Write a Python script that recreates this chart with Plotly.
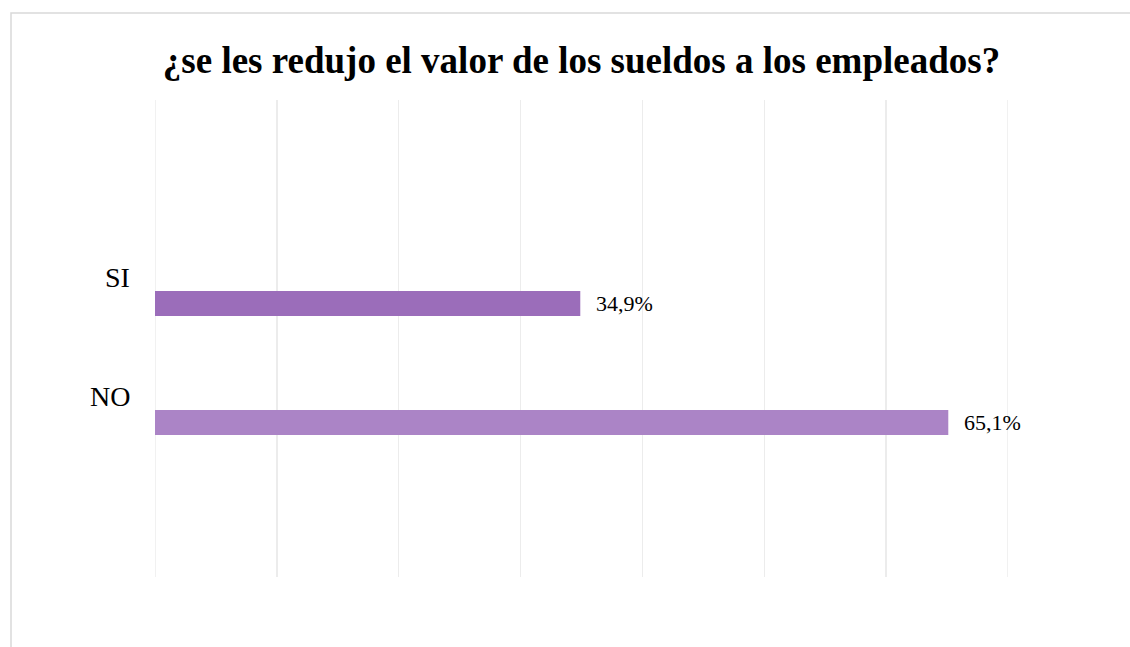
import plotly.graph_objects as go

categories = ["NO", "SI"]
values = [0.651, 0.349]
value_labels = ["65,1%", "34,9%"]
colors = ["#ab84c6", "#9b6dba"]
title_text = "¿se les redujo el valor de los sueldos a los empleados?"
x_min, x_max = 0.0, 0.7

FONT = "Liberation Serif, Times New Roman, serif"
GRID = "#ececec"

fig = go.Figure()
fig.add_trace(go.Bar(
    y=categories, x=values, orientation="h",
    marker=dict(color=colors, line=dict(width=0)),
    width=0.21, hoverinfo="skip",
))

for c, v, t in zip(categories, values, value_labels):
    fig.add_annotation(x=v, y=c, xref="x", yref="y", text=t, showarrow=False,
                       xanchor="left", yanchor="middle", xshift=14, yshift=0,
                       font=dict(family=FONT, size=22, color="#000000"))
    fig.add_annotation(x=0, y=c, xref="paper", yref="y", text=c, showarrow=False,
                       xanchor="right", yanchor="middle", xshift=-23, yshift=26,
                       font=dict(family=FONT, size=28, color="#000000"))

# edge gridlines (plotly drops gridlines sitting on the plot edges)
for xv in (x_min, x_max):
    fig.add_shape(type="line", xref="x", yref="paper", x0=xv, x1=xv, y0=0, y1=1,
                  line=dict(color=GRID, width=1.5), layer="below")

# outer chart border
fig.add_shape(type="rect", xref="paper", yref="paper",
              x0=-144/853, x1=(1200-155)/853, y0=-(700-577)/477, y1=1+87/477,
              line=dict(color="#d9d9d9", width=1.5), fillcolor="rgba(0,0,0,0)", layer="below")

fig.update_layout(
    width=1130, height=647,
    margin=dict(l=155, r=122, t=100, b=70),
    paper_bgcolor="white", plot_bgcolor="white",
    title=dict(text="<b>" + title_text + "</b>", x=0.5, xref="paper", xanchor="center",
               y=1 - 60/647, yanchor="middle",
               font=dict(family=FONT, size=37, color="#000000")),
    xaxis=dict(range=[x_min, x_max], dtick=0.1, tick0=0, showgrid=True, gridcolor=GRID, gridwidth=1.5,
               showticklabels=False, zeroline=False, showline=False, ticks="", fixedrange=True),
    yaxis=dict(range=[-1.298, 2.710], showticklabels=False, showgrid=False, zeroline=False,
               showline=False, ticks="", fixedrange=True),
    showlegend=False,
)

fig.write_html("out.html", config=dict(displayModeBar=False, staticPlot=True),
               post_script="document.body.style.margin='0';document.body.style.overflow='hidden';")
